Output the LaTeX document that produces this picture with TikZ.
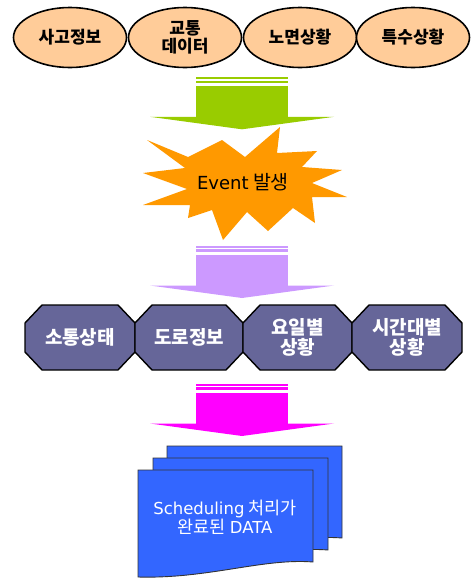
\documentclass[tikz,border=0pt]{standalone}
\usepackage{fontspec}
\newfontfamily\kr{Noto Sans CJK KR}
\newfontfamily\dv{DejaVu Sans}
\usetikzlibrary{shapes.geometric}
\definecolor{peach}{HTML}{FFCC99}
\definecolor{arrgreen}{HTML}{99CC00}
\definecolor{starorange}{HTML}{FF9900}
\definecolor{lilac}{HTML}{CC99FF}
\definecolor{arrmagenta}{HTML}{FF00FF}
\definecolor{slate}{HTML}{666699}
\definecolor{docblue}{HTML}{3366FF}
\newcommand\blockarrow[2]{%
  \fill[#1] (196,#2) rectangle (288,{#2+2});
  \fill[#1] (196,{#2+3.4}) rectangle (288,{#2+6});
  \fill[#1] (196,{#2+8.7}) rectangle (288,{#2+40});
  \fill[#1] (150,{#2+39.5}) -- (334,{#2+39.5}) -- (242,{#2+52}) -- cycle;}
\newcommand\octagonbox[4]{%
  \draw[octa] (#1,323) -- ({#1+17},305) -- ({#2-17},305) -- (#2,323) -- (#2,352)
    -- ({#2-17},370) -- ({#1+17},370) -- (#1,352) -- cycle;
  \node[octatext] (#3) at ({(#1+#2)/2},337.5) {#4};}
\newcommand\docshape[2]{%
  \draw[docst] (#1,#2) -- ({#1+175},#2) -- ({#1+175},{#2+92})
    .. controls ({#1+125},{#2+88}) and ({#1+70},{#2+109}) .. (#1,{#2+107}) -- cycle;}
\begin{document}
\begin{tikzpicture}[x=1pt,y=-1pt,
  topell/.style={ellipse, draw=black, line width=1.6pt, fill=peach,
    minimum width=113pt, minimum height=60pt, inner sep=0pt, align=center,
    font=\kr\bfseries\fontsize{17}{18}\selectfont, text=black},
  octa/.style={draw=black, line width=1.4pt, fill=slate, line join=miter},
  octatext/.style={align=center, text=white, inner sep=0pt,
    font=\kr\bfseries\fontsize{19}{20}\selectfont},
  docst/.style={draw=black!80, line width=0.9pt, fill=docblue},
  startext/.style={text=black, inner sep=0pt, font=\kr\fontsize{19.5}{19}\selectfont},
  doctext/.style={text=white, align=center, inner sep=0pt,
    font=\kr\fontsize{17.5}{19.5}\selectfont}]
\useasboundingbox (0,0) rectangle (476,579);
\fill[white] (0,0) rectangle (476,579);
% top ellipses
\node[topell] (e1) at (70,37.5) {사고정보};
\node[topell] (e2) at (185,37.5) {교통\\데이터};
\node[topell] (e3) at (300,37.5) {노면상황};
\node[topell] (e4) at (413,37.5) {특수상황};
% green arrow
\blockarrow{arrgreen}{77.3}
% star
\fill[starorange] (147,140) -- (188,157) -- (222,140) -- (245,157) -- (280,127)
  -- (277,153) -- (317,151) -- (302,167) -- (342,170) -- (312,183) -- (347,197)
  -- (312,197) -- (315,223) -- (293,208) -- (268,231) -- (247,212) -- (223,240)
  -- (212,210) -- (188,218) -- (190,205) -- (143,205) -- (187,189) -- (143,173)
  -- (185,168) -- cycle;
\node[startext] (ev) at (243,182) {{\dv\fontsize{18}{19}\selectfont Event} 발생};
% lilac arrow
\blockarrow{lilac}{246}
% octagons
\octagonbox{25}{135}{o1}{소통상태}
\octagonbox{135}{243}{o2}{도로정보}
\octagonbox{243}{352}{o3}{요일별\\상황}
\octagonbox{352}{462}{o4}{시간대별\\상황}
% magenta arrow
\blockarrow{arrmagenta}{384}
% documents
\docshape{167}{446}
\docshape{153}{458}
\docshape{138}{470}
\node[doctext] (doc) at (225,517.5) {{\dv\fontsize{16.5}{19.5}\selectfont Scheduling} 처리가\\완료된 {\dv\fontsize{16.5}{19.5}\selectfont DATA}};
\end{tikzpicture}
\end{document}
